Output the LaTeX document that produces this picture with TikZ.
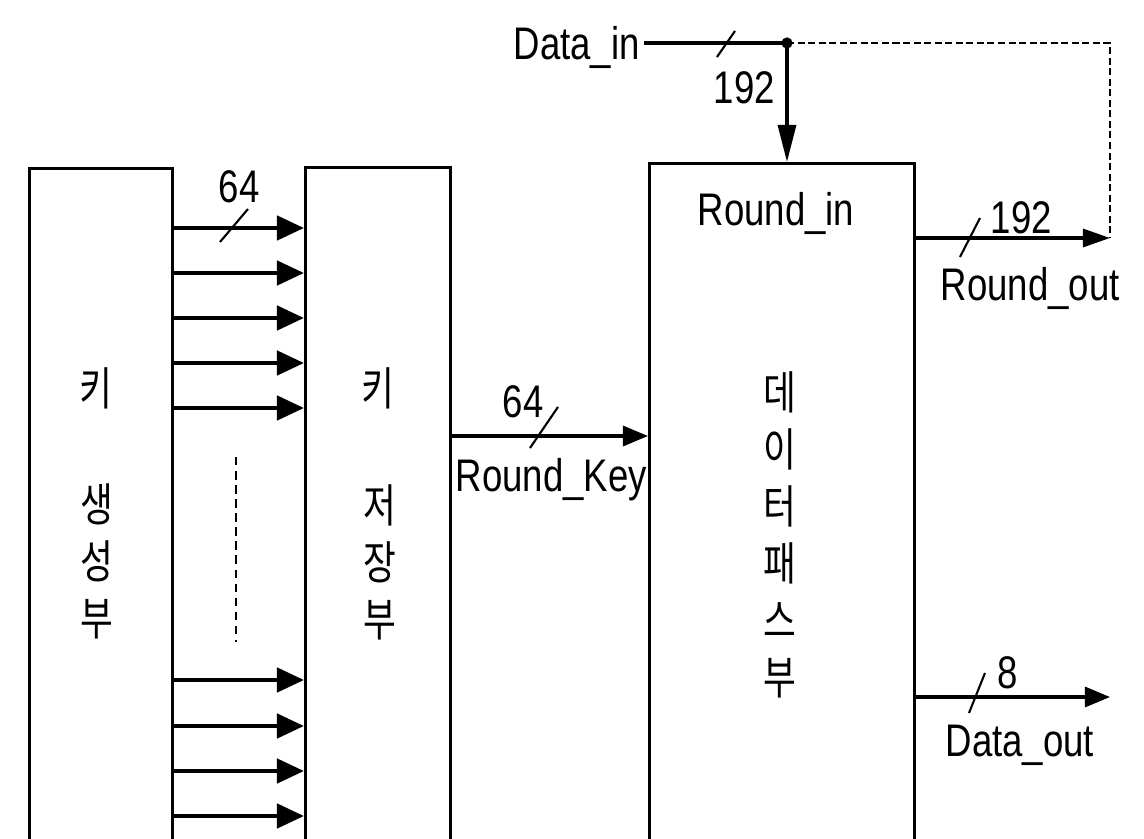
\documentclass[tikz,border=0pt]{standalone}
\usepackage{fontspec}
\setmainfont[FakeStretch=0.8]{Liberation Sans}
\newfontfamily\kor[FakeStretch=0.78]{Noto Sans CJK KR}
\usetikzlibrary{arrows.meta}

\begin{document}
\begin{tikzpicture}[x=0.01cm, y=-0.01cm,
    >={Triangle[length=0.25cm, width=0.2cm]},
    block/.style={draw, line width=0.75pt, anchor=north west, inner sep=0pt},
    lbl/.style={inner sep=0pt, anchor=base west, font=\fontsize{13}{15.6}\selectfont},
    hang/.style={font=\kor\fontsize{13}{16.2}\selectfont, align=center, inner sep=0pt},
    bus/.style={-{Triangle[length=0.27cm, width=0.24cm]}, line width=1.3pt},
    wire/.style={->, line width=0.9pt},
    tick/.style={line width=0.6pt}]
    \useasboundingbox (0,0) rectangle (1144,839);

    % Blocos (abertos em baixo)
    \node[block, minimum width=1.43cm, minimum height=6.75cm] (gen) at (28,167) {};
    \node[block, minimum width=1.45cm, minimum height=6.76cm] (store) at (304,166) {};
    \node[block, minimum width=2.65cm, minimum height=6.8cm] (dpath) at (648,162) {};

    % Textos verticais dos blocos
    \node[hang] (genA) at (96,388) {키};
    \node[hang] (genB) at (97,561) {생\\성\\부};
    \node[hang] (storeA) at (378,388) {키};
    \node[hang] (storeB) at (380,562) {저\\장\\부};
    \node[hang] (dpathT) at (780,535) {데\\이\\터\\패\\스\\부};
    \node[lbl] (rin) at (697,225) {Round\_in};

    % Barramentos de 64 bits entre os blocos
    \foreach \y in {228,273,318,363,408,680,726,771,816} {
      \draw[bus] (gen.east |- 0,\y) -- (store.west |- 0,\y);
    }
    \draw[dashed, dash pattern=on 2.4pt off 1.6pt, line width=0.7pt] (236,457) -- (236,642);
    \draw[tick] (234,226) ++(-14,16) -- ++(28,-33);
    \node[lbl] (n64a) at (218,202) {64};

    % Chave de ronda
    \draw[wire] (store.east |- 0,436) -- (dpath.west |- 0,436);
    \draw[tick] (544,428) ++(-14,20) -- ++(28,-41);
    \node[lbl] (n64b) at (502,417) {64};
    \node[lbl] (rkey) at (455,491) {Round\_Key};

    % Entrada de dados e realimentacao
    \node[lbl] (din) at (513,59) {Data\_in};
    \coordinate (dot) at (787,43);
    \coordinate (fb) at (1110,238);
    \draw[line width=0.9pt, shorten <=1pt] (din.east |- dot) -- (dot);
    \fill (dot) circle (1.6pt);
    \draw[-{Triangle[length=0.37cm, width=0.18cm]}, line width=0.9pt] (dot) -- (dot |- dpath.north);
    \draw[tick] (726,44) ++(-9,13) -- ++(18,-26);
    \node[lbl] (n192a) at (713,103) {192};
    \draw[dashed, dash pattern=on 2pt off 1pt, line width=0.6pt] (dot) -- (dot -| fb) -- (fb);

    % Saida da ronda
    \draw[-{Triangle[length=0.27cm, width=0.18cm]}, line width=0.9pt] (dpath.east |- fb) -- (fb);
    \draw[tick] (970,238) ++(-10,19) -- ++(20,-39);
    \node[lbl] (n192b) at (990,233) {192};
    \node[lbl] (rout) at (940,300) {Round\_out};

    % Saida de dados
    \coordinate (dout) at (1110,697);
    \draw[wire] (dpath.east |- dout) -- (dout);
    \draw[tick] (977,693) ++(-8,20) -- ++(16,-40);
    \node[lbl] (n8) at (997,688) {8};
    \node[lbl] (doutl) at (945,756) {Data\_out};
\end{tikzpicture}
\end{document}
